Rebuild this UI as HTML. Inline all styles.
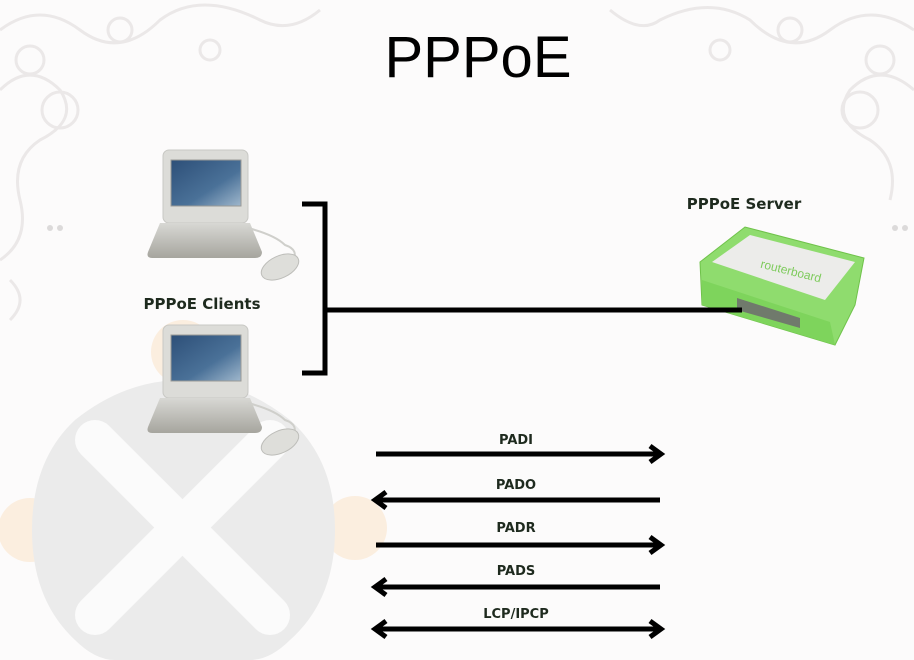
<!DOCTYPE html>
<html><head><meta charset="utf-8"><style>
html,body{margin:0;padding:0;background:#fcfbfb;}
svg{display:block;}
</style></head><body>
<svg width="914" height="660" viewBox="0 0 914 660" xmlns="http://www.w3.org/2000/svg">
<defs>
<linearGradient id="scr" x1="0" y1="0" x2="1" y2="1"><stop offset="0" stop-color="#2d4f78"/><stop offset="0.6" stop-color="#4a7198"/><stop offset="1" stop-color="#9fb7cc"/></linearGradient>
<linearGradient id="kb" x1="0" y1="0" x2="0" y2="1"><stop offset="0" stop-color="#d8d8d4"/><stop offset="1" stop-color="#a6a59e"/></linearGradient>
<g id="pc">
<rect x="163" y="150" width="85" height="73" rx="6" fill="#dcdcd8" stroke="#c8c8c4"/>
<rect x="171" y="160" width="70" height="46" fill="url(#scr)" stroke="#9a9a96"/>
<path d="M160 223 L250 223 L262 252 Q262 258 255 258 L152 258 Q146 258 148 252 Z" fill="url(#kb)"/>
<path d="M248 228 Q275 235 285 245 Q300 250 292 262" fill="none" stroke="#cfcfcb" stroke-width="2"/>
<ellipse cx="280" cy="267" rx="20" ry="11" transform="rotate(-25 280 267)" fill="#dededa" stroke="#bdbdb9"/>
</g>
</defs>
<!-- ornaments -->
<g fill="none" stroke="#ebe8e8" stroke-width="3">
<path d="M0 30 Q40 0 80 30 Q120 60 160 20 Q200 -10 260 20 Q290 35 320 10"/>
<path d="M0 90 Q30 60 60 90 Q80 120 40 140 Q10 160 20 200 Q30 240 0 260 M10 280 Q30 300 10 320"/>
<path d="M914 30 Q870 0 830 30 Q790 60 750 20 Q710 -5 660 20 Q640 35 610 10"/>
<path d="M914 90 Q880 60 850 90 Q830 120 870 140 Q900 160 890 200"/>
<circle cx="30" cy="60" r="14"/><circle cx="880" cy="60" r="14"/><circle cx="210" cy="50" r="10"/><circle cx="720" cy="50" r="10"/>
<circle cx="60" cy="110" r="18"/><circle cx="860" cy="110" r="18"/><circle cx="120" cy="30" r="12"/><circle cx="790" cy="30" r="12"/>
</g>
<g fill="#dcdada"><circle cx="50" cy="228" r="3"/><circle cx="60" cy="228" r="3"/><circle cx="895" cy="228" r="3"/><circle cx="905" cy="228" r="3"/></g>
<!-- watermark -->
<circle cx="30" cy="530" r="32" fill="#fbeedf"/>
<circle cx="355" cy="528" r="32" fill="#fbeedf"/>
<circle cx="183" cy="352" r="32" fill="#fbeedf"/>
<path d="M183 380 Q240 380 290 420 Q335 460 335 530 Q335 600 290 640 Q270 660 250 660 L115 660 Q95 660 75 640 Q32 600 32 530 Q32 460 75 420 Q125 380 183 380 Z" fill="#ebebeb"/>
<path d="M95 440 L270 615 M270 440 L95 615" stroke="#fbfbfb" stroke-width="40" stroke-linecap="round"/>
<!-- title -->
<text x="478" y="77" font-family="Liberation Sans, sans-serif" font-size="58" text-anchor="middle" fill="#000">PPPoE</text>
<use href="#pc"/>
<use href="#pc" y="175"/>
<text x="202" y="309" font-family="DejaVu Sans, sans-serif" font-weight="bold" font-size="15" text-anchor="middle" fill="#1e2a1e">PPPoE Clients</text>
<text x="744" y="209" font-family="DejaVu Sans, sans-serif" font-weight="bold" font-size="15" text-anchor="middle" fill="#1e2a1e">PPPoE Server</text>
<!-- router -->
<path d="M700 262 L745 227 L864 258 L855 305 L835 345 L702 305 Z" fill="#8fdc6e" stroke="#6fc24a"/>
<path d="M712 262 L750 235 L855 262 L825 300 Z" fill="#ececea"/>
<path d="M702 280 L830 322 L835 345 L702 305 Z" fill="#7ed45c"/>
<path d="M737 298 L800 318 L800 328 L737 310 Z" fill="#707a6c"/>
<text x="790" y="275" font-family="Liberation Sans, sans-serif" font-size="12" fill="#7ecb5c" transform="rotate(14 790 275)" text-anchor="middle">routerboard</text>
<!-- bracket -->
<path d="M302 204 L325 204 L325 373 L302 373" fill="none" stroke="#000" stroke-width="5"/>
<line x1="325" y1="310" x2="742" y2="310" stroke="#000" stroke-width="5"/>
<!-- arrows -->
<g stroke="#000" stroke-width="5" fill="none" stroke-linecap="butt">
<line x1="376" y1="454" x2="660" y2="454"/><path d="M650 446 L661 454 L650 462"/>
<line x1="376" y1="500" x2="660" y2="500"/><path d="M386 492 L375 500 L386 508"/>
<line x1="376" y1="545" x2="660" y2="545"/><path d="M650 537 L661 545 L650 553"/>
<line x1="376" y1="587" x2="660" y2="587"/><path d="M386 579 L375 587 L386 595"/>
<line x1="376" y1="629" x2="660" y2="629"/><path d="M386 621 L375 629 L386 637"/><path d="M650 621 L661 629 L650 637"/>
</g>
<g font-family="DejaVu Sans, sans-serif" font-weight="bold" font-size="13" text-anchor="middle" fill="#1e2a1e">
<text x="516" y="444">PADI</text>
<text x="516" y="489">PADO</text>
<text x="516" y="532">PADR</text>
<text x="516" y="575">PADS</text>
<text x="516" y="618">LCP/IPCP</text>
</g>
</svg>
</body></html>
